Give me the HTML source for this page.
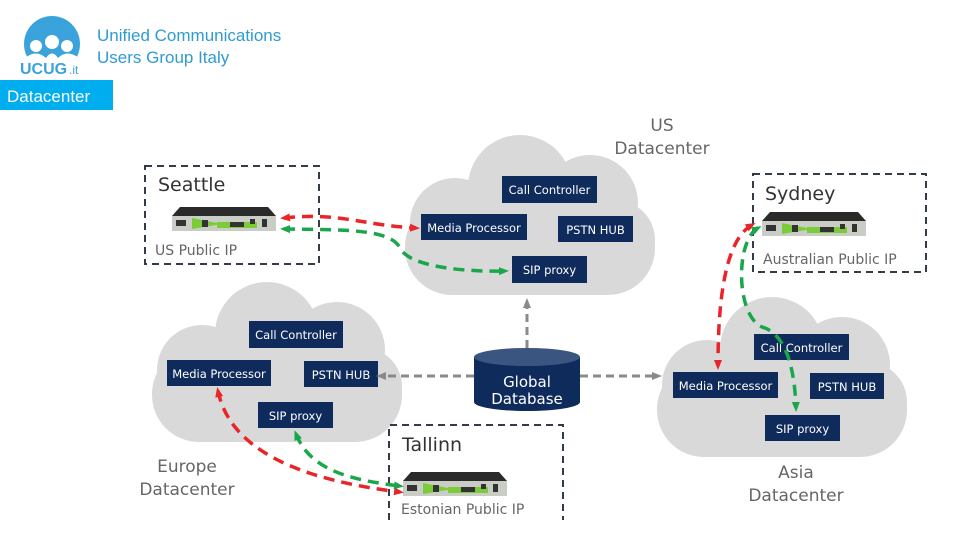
<!DOCTYPE html>
<html><head><meta charset="utf-8"><style>
body{margin:0;width:960px;height:540px;background:#fff;overflow:hidden;font-family:"Liberation Sans",sans-serif}
svg{position:absolute;left:0;top:0}
</style></head><body>
<svg width="960" height="540" viewBox="0 0 960 540">
<defs>
<g id="cloud" fill="#d9d9d9">
<rect x="5" y="65" width="250" height="95" rx="47"/>
<circle cx="120" cy="52" r="52"/>
<circle cx="190" cy="68" r="48"/>
<circle cx="55" cy="88" r="45"/>
<circle cx="215" cy="105" r="40"/>
</g>
<g id="dev">
<polygon points="8,0 96,0 104,9 0,9" fill="#2a2a2a"/>
<rect x="0" y="9" width="104" height="15" fill="#c9cdc6"/>
<polygon points="20,11 50,17 20,22" fill="#7ccc3a"/>
<rect x="45" y="15" width="40" height="6" fill="#7ccc3a"/>
<rect x="4" y="13" width="10" height="6" fill="#333"/>
<rect x="30" y="13" width="6" height="7" fill="#333"/>
<rect x="58" y="15" width="14" height="5" fill="#333"/>
<rect x="78" y="12" width="5" height="5" fill="#333"/>
<rect x="90" y="12" width="5" height="8" fill="#333"/>
</g>
<clipPath id="lc"><rect x="0" y="0" width="120" height="58"/></clipPath>
<marker id="ar" markerUnits="userSpaceOnUse" markerWidth="10" markerHeight="10" refX="6" refY="5" orient="auto-start-reverse"><path d="M0,1L10,5L0,9z" fill="#e8262a"/></marker>
<marker id="ag" markerUnits="userSpaceOnUse" markerWidth="10" markerHeight="10" refX="6" refY="5" orient="auto-start-reverse"><path d="M0,1L10,5L0,9z" fill="#1aa64a"/></marker>
<marker id="ay" markerUnits="userSpaceOnUse" markerWidth="10" markerHeight="10" refX="6" refY="5" orient="auto"><path d="M0,1L10,5L0,9z" fill="#8a8a8a"/></marker>
</defs>

<!-- header -->
<circle cx="52" cy="44" r="28" fill="#3ba3db" clip-path="url(#lc)"/>
<g fill="#fff"><circle cx="36" cy="46" r="6"/><circle cx="52" cy="42" r="7"/><circle cx="67" cy="46" r="6"/>
<path d="M25,58 Q36,49 46,58 Q52,49 58,58 Q67,49 79,58 Z"/></g>
<text x="20" y="74" font-size="16" font-weight="bold" fill="#3ba3db">UCUG</text>
<text x="69" y="74" font-size="12" fill="#3ba3db">.it</text>
<text x="97" y="41" font-size="17" fill="#2f9bd3">Unified Communications</text>
<text x="97" y="63" font-size="17" fill="#2f9bd3">Users Group Italy</text>
<rect x="0" y="80" width="113" height="30" fill="#00adee"/>
<text x="7" y="102" font-size="17" fill="#fff">Datacenter</text>

<!-- clouds -->
<use href="#cloud" x="400" y="135"/>
<use href="#cloud" x="147" y="282"/>
<use href="#cloud" x="652" y="297"/>

<g font-family="'DejaVu Sans',sans-serif" fill="#666" font-size="17" text-anchor="middle">
<text x="662" y="131">US</text><text x="662" y="154">Datacenter</text>
<text x="187" y="472">Europe</text><text x="187" y="495">Datacenter</text>
<text x="796" y="478">Asia</text><text x="796" y="501">Datacenter</text>
</g>

<!-- boxes -->
<g fill="#0f2b5c">
<rect x="502" y="176" width="95" height="27"/><rect x="421" y="214" width="106" height="26"/><rect x="558" y="216" width="75" height="26"/><rect x="512" y="256" width="75" height="27"/>
<rect x="249" y="321" width="94" height="27"/><rect x="167" y="360" width="104" height="26"/><rect x="304" y="361" width="74" height="26"/><rect x="258" y="402" width="75" height="26"/>
<rect x="754" y="334" width="95" height="26"/><rect x="673" y="372" width="105" height="26"/><rect x="810" y="373" width="74" height="26"/><rect x="765" y="415" width="75" height="26"/>
</g>
<g fill="#fff" font-family="'DejaVu Sans',sans-serif" font-size="11.5" text-anchor="middle">
<text x="549.5" y="194">Call Controller</text><text x="474" y="232">Media Processor</text><text x="595.5" y="234">PSTN HUB</text><text x="549.5" y="274">SIP proxy</text>
<text x="296" y="339">Call Controller</text><text x="219" y="378">Media Processor</text><text x="341" y="379">PSTN HUB</text><text x="295.5" y="420">SIP proxy</text>
<text x="801.5" y="352">Call Controller</text><text x="725.5" y="390">Media Processor</text><text x="847" y="391">PSTN HUB</text><text x="802.5" y="433">SIP proxy</text>
</g>

<!-- database -->
<path d="M474,357 L474,402 A53,9 0 0 0 580,402 L580,357 Z" fill="#0f2b5c"/>
<ellipse cx="527" cy="357" rx="53" ry="9" fill="#3a5680"/>
<g fill="#fff" font-family="'DejaVu Sans',sans-serif" font-size="15" text-anchor="middle">
<text x="527" y="387">Global</text><text x="527" y="404">Database</text></g>

<!-- gray arrows -->
<g stroke="#8a8a8a" stroke-width="3" stroke-dasharray="8,5" fill="none">
<path d="M527,348 L527,302" marker-end="url(#ay)"/>
<path d="M474,376 L380,376" marker-end="url(#ay)"/>
<path d="M580,376 L658,376" marker-end="url(#ay)"/>
</g>

<!-- location boxes -->
<g stroke="#333a48" stroke-width="2" stroke-dasharray="7,5" fill="none">
<rect x="145" y="166" width="174" height="98"/>
<rect x="753" y="174" width="173" height="98"/>
<path d="M389,520 L389,425 L563,425 L563,520"/>
</g>
<g font-family="'DejaVu Sans',sans-serif" fill="#333">
<text x="158" y="191" font-size="19">Seattle</text>
<text x="765" y="200" font-size="19">Sydney</text>
<text x="402" y="451" font-size="19">Tallinn</text>
<g font-size="14" fill="#666"><text x="155" y="255">US Public IP</text><text x="763" y="264">Australian Public IP</text><text x="401" y="514">Estonian Public IP</text></g>
</g>
<use href="#dev" x="172" y="207"/>
<use href="#dev" x="762" y="212"/>
<use href="#dev" x="403" y="472"/>

<!-- red/green -->
<g stroke-width="3.5" stroke-dasharray="11,7" fill="none">
<path d="M284,218 C340,212 360,225 416,228" stroke="#e8262a" marker-start="url(#ar)" marker-end="url(#ar)"/>
<path d="M284,229 C340,230 390,228 400,248 C410,268 470,272 505,271" stroke="#1aa64a" marker-start="url(#ag)" marker-end="url(#ag)"/>
<path d="M752,225 C725,240 718,300 718,366" stroke="#e8262a" marker-start="url(#ar)" marker-end="url(#ar)"/>
<path d="M758,228 C735,240 735,320 765,328 C790,338 795,380 796,408" stroke="#1aa64a" marker-start="url(#ag)" marker-end="url(#ag)"/>
<path d="M218,391 C230,450 300,480 400,492" stroke="#e8262a" marker-start="url(#ar)" marker-end="url(#ar)"/>
<path d="M296,434 C310,470 350,480 400,486" stroke="#1aa64a" marker-start="url(#ag)" marker-end="url(#ag)"/>
</g>
</svg>
</body></html>
